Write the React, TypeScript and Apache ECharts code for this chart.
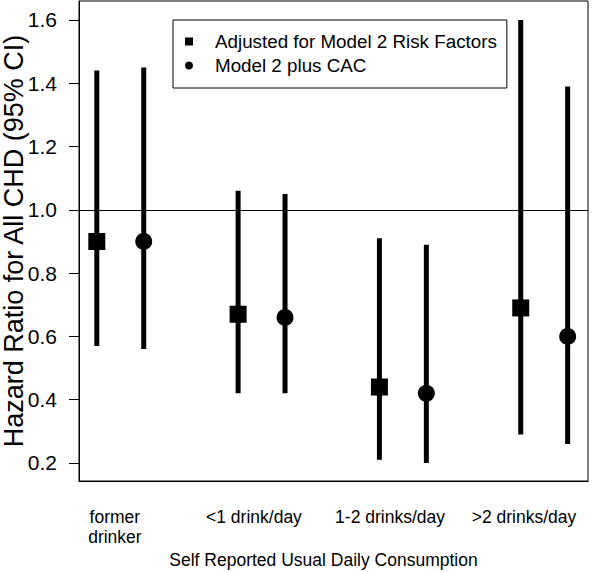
import React, { useEffect, useRef } from "react";
import * as echarts from "echarts";

const categories = ["former\ndrinker", "<1 drink/day", "1-2 drinks/day", ">2 drinks/day"];
const groupPos = [1, 2, 3, 4];
const labelPos = [0.962, 1.946, 2.909, 3.857];
const pairOffset = 0.166;

const model2Est = [0.9, 0.67, 0.44, 0.69];
const model2Lo = [0.57, 0.42, 0.21, 0.29];
const model2Hi = [1.44, 1.06, 0.91, 1.6];

const cacEst = [0.9, 0.66, 0.42, 0.6];
const cacLo = [0.56, 0.42, 0.2, 0.26];
const cacHi = [1.45, 1.05, 0.89, 1.39];

const yTicks = [0.2, 0.4, 0.6, 0.8, 1.0, 1.2, 1.4, 1.6];
const referenceValue = 1.0;

const seriesNames = ["Adjusted for Model 2 Risk Factors", "Model 2 plus CAC"];

const FONT = "'Liberation Sans', Arial, sans-serif";

export default function App() {
  const ref = useRef<HTMLDivElement>(null);

  useEffect(() => {
    if (!ref.current) return;
    const chart = echarts.init(ref.current, undefined, { renderer: "svg" });

    const xSq = groupPos.map((g) => g - pairOffset);
    const xCi = groupPos.map((g) => g + pairOffset);

    const errRender = (params: any, api: any) => {
      const x = api.value(0);
      const lo = api.coord([x, api.value(1)]);
      const hi = api.coord([x, api.value(2)]);
      return {
        type: "line",
        shape: { x1: lo[0], y1: lo[1], x2: hi[0], y2: hi[1] },
        style: { stroke: "#000", lineWidth: 5 },
      };
    };

    chart.setOption({
      animation: false,
      backgroundColor: "#fff",
      textStyle: { fontFamily: FONT, color: "#000" },
      grid: {
        left: 79,
        right: 12,
        top: 1,
        bottom: 91,
        containLabel: false,
        outerBoundsMode: "none",
        show: true,
        borderColor: "#000",
        borderWidth: 1,
      },
      legend: {
        orient: "vertical",
        left: 173,
        top: 20,
        padding: [12, 10, 13, 12],
        itemGap: 5,
        borderColor: "#000",
        borderWidth: 1,
        itemWidth: 8,
        itemHeight: 8,
        data: [
          { name: seriesNames[0], icon: "rect" },
          { name: seriesNames[1], icon: "circle" },
        ],
        textStyle: {
          fontFamily: FONT,
          fontSize: 18.8,
          color: "#000",
          padding: [0, 0, 0, 17],
        },
      },
      xAxis: {
        type: "value",
        min: 0.708,
        max: 4.31,
        splitLine: { show: false },
        axisLine: { show: true, lineStyle: { color: "#000", width: 1 } },
        axisTick: { show: false },
        axisLabel: {
          customValues: labelPos,
          formatter: (v: number) => {
            const i = labelPos.findIndex((p) => Math.abs(p - v) < 1e-6);
            return i >= 0 ? categories[i] : "";
          },
          fontFamily: FONT,
          fontSize: 17.5,
          lineHeight: 20,
          color: "#000",
          margin: 26,
          showMinLabel: true,
          showMaxLabel: true,
        },
        name: "Self Reported Usual Daily Consumption",
        nameLocation: "middle",
        nameGap: 70,
        nameMoveOverlap: false,
        nameTextStyle: {
          fontFamily: FONT,
          fontSize: 17.5,
          color: "#000",
          padding: [0, 20, 0, 0],
        },
      },
      yAxis: {
        type: "value",
        min: 0.143,
        max: 1.66,
        splitLine: { show: false },
        axisLine: { show: true, lineStyle: { color: "#000", width: 1 } },
        axisTick: {
          show: true,
          length: 10,
          customValues: yTicks,
          lineStyle: { color: "#000", width: 1 },
        },
        axisLabel: {
          customValues: yTicks,
          formatter: (v: number) => v.toFixed(1),
          fontFamily: FONT,
          fontSize: 21,
          color: "#000",
          margin: 22,
        },
        name: "Hazard Ratio for All CHD (95% CI)",
        nameLocation: "middle",
        nameGap: 52,
        nameMoveOverlap: false,
        nameTextStyle: { fontFamily: FONT, fontSize: 27, color: "#000" },
      },
      series: [
        {
          type: "custom",
          name: "ci1",
          renderItem: errRender,
          encode: { x: 0, y: [1, 2] },
          data: xSq.map((x, i) => [x, model2Lo[i], model2Hi[i]]),
          z: 2,
          markLine: {
            silent: true,
            symbol: "none",
            label: { show: false },
            lineStyle: { color: "#000", width: 1, type: "solid" },
            data: [{ yAxis: referenceValue }],
          },
        },
        {
          type: "custom",
          name: "ci2",
          renderItem: errRender,
          encode: { x: 0, y: [1, 2] },
          data: xCi.map((x, i) => [x, cacLo[i], cacHi[i]]),
          z: 2,
        },
        {
          type: "scatter",
          name: seriesNames[0],
          symbol: "rect",
          symbolSize: 17,
          itemStyle: { color: "#000", opacity: 1 },
          data: xSq.map((x, i) => [x, model2Est[i]]),
          z: 3,
        },
        {
          type: "scatter",
          name: seriesNames[1],
          symbol: "circle",
          symbolSize: 17,
          itemStyle: { color: "#000", opacity: 1 },
          data: xCi.map((x, i) => [x, cacEst[i]]),
          z: 3,
        },
      ],
    });

    return () => chart.dispose();
  }, []);

  return (
    <div
      ref={ref}
      style={{ position: "fixed", left: 0, top: 0, width: 600, height: 572 }}
    />
  );
}
